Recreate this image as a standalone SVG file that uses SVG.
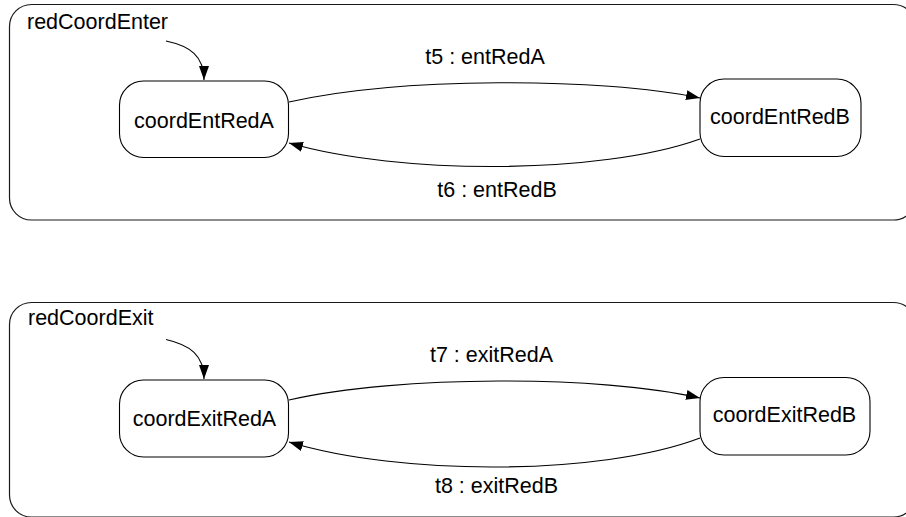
<svg xmlns="http://www.w3.org/2000/svg" width="906" height="517" viewBox="0 0 906 517">
  <style>
    .region { fill: none; stroke: #1a1a1a; stroke-width: 1.2; }
    .state { fill: #ffffff; stroke: #000000; stroke-width: 1.1; }
    .lbl { font-family: "Liberation Sans", Arial, sans-serif; font-size: 21.5px; fill: #000000; }
    .mid { text-anchor: middle; }
    .edge { fill: none; stroke: #000000; stroke-width: 1.1; }
  </style>
  <defs>
    <marker id="arrow" markerUnits="userSpaceOnUse" markerWidth="15" markerHeight="11" refX="14" refY="5" orient="auto">
      <path d="M0,0 L14,5 L0,10 z" fill="#000000"/>
    </marker>
  </defs>

  <!-- composite state: redCoordEnter -->
  <g id="redCoordEnter">
    <rect class="region" x="9.5" y="4.5" width="906" height="215.5" rx="22" ry="22"/>
    <text class="lbl" x="27" y="29">redCoordEnter</text>
  </g>

  <!-- composite state: redCoordExit -->
  <g id="redCoordExit">
    <rect class="region" x="9.5" y="302.5" width="906" height="214.5" rx="22" ry="22"/>
    <text class="lbl" x="28" y="325">redCoordExit</text>
  </g>

  <g id="coordEntRedA">
    <rect class="state" x="119.5" y="81" width="169" height="76.5" rx="24" ry="24"/>
    <text class="lbl mid" x="204" y="127.5">coordEntRedA</text>
  </g>
  <g id="coordEntRedB">
    <rect class="state" x="700" y="79" width="161" height="77.5" rx="24" ry="24"/>
    <text class="lbl mid" x="780" y="124">coordEntRedB</text>
  </g>
  <g id="coordExitRedA">
    <rect class="state" x="119.5" y="380" width="169" height="77" rx="24" ry="24"/>
    <text class="lbl mid" x="204.5" y="426">coordExitRedA</text>
  </g>
  <g id="coordExitRedB">
    <rect class="state" x="700" y="377.5" width="170" height="77.5" rx="24" ry="24"/>
    <text class="lbl mid" x="784.5" y="422">coordExitRedB</text>
  </g>

  <!-- transitions -->
  <g id="connectors">
    <path class="edge" d="M166,41 C190,46 204,56 204,80" marker-end="url(#arrow)"/>
    <path class="edge" d="M289,102 C400,77 600,77 700,98" marker-end="url(#arrow)"/>
    <path class="edge" d="M700,139 C600,175 400,175 289,143" marker-end="url(#arrow)"/>
    <text class="lbl mid" x="485" y="64">t5 : entRedA</text>
    <text class="lbl mid" x="497" y="197">t6 : entRedB</text>

    <path class="edge" d="M166,339.5 C190,345 204,355 204,379" marker-end="url(#arrow)"/>
    <path class="edge" d="M289,400 C400,375 600,375 700,398" marker-end="url(#arrow)"/>
    <path class="edge" d="M700,438 C600,476 400,476 289,442" marker-end="url(#arrow)"/>
    <text class="lbl mid" x="491.5" y="362">t7 : exitRedA</text>
    <text class="lbl mid" x="496.5" y="493">t8 : exitRedB</text>
  </g>
</svg>
